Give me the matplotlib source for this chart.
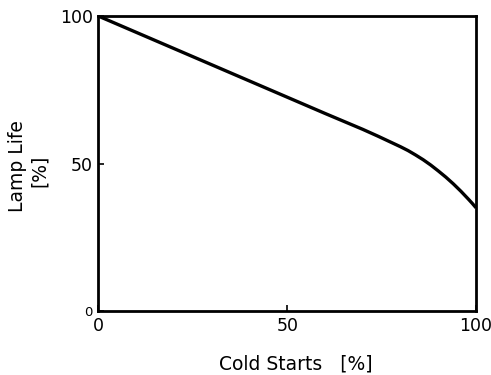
import matplotlib
matplotlib.use("Agg")
import matplotlib.pyplot as plt

plt.rcParams['font.family'] = ['DejaVu Sans']

cold_starts = [0, 10, 20, 30, 40, 50, 60, 70, 74, 77, 80, 82, 84, 86, 88, 90, 92, 94, 96, 98, 99, 100]
lamp_life = [100, 94.5, 89, 83.5, 78, 72.5, 67, 61.6, 59.3, 57.5, 55.7, 54.4, 52.9, 51.3, 49.5, 47.5, 45.4, 43.1, 40.6, 37.9, 36.5, 35]
x_ticks = [0, 50, 100]
y_ticks = [0, 50, 100]

fig = plt.figure(figsize=(4.91, 3.75), dpi=100)
ax = fig.add_axes([0.2006, 0.1707, 0.7689, 0.7863])
ax.plot(cold_starts, lamp_life, color='black', linewidth=2.4, solid_capstyle='butt',
        solid_joinstyle='round')
ax.set_xlim(0, 100)
ax.set_ylim(0, 100)
for s in ax.spines.values():
    s.set_linewidth(2.0)
ax.set_xticks(x_ticks)
ax.set_yticks(y_ticks)
ax.set_xticklabels([str(v) for v in x_ticks], fontsize=12.5)
ax.set_yticklabels([str(v) for v in y_ticks], fontsize=12.5)
ax.get_yticklabels()[0].set_fontsize(9.5)
ax.tick_params(direction='in', length=4, width=1.2)
ax.tick_params(axis='x', pad=4)
ax.tick_params(axis='y', pad=4)
fig.text(0.603, 1 - 364 / 375, 'Cold Starts   [%]', fontsize=13.5, ha='center', va='center')
fig.text(18 / 491, 1 - 166.5 / 375, 'Lamp Life', rotation=90, fontsize=13.5, ha='center', va='center')
fig.text(39 / 491, 1 - 171 / 375, '[%]', rotation=90, fontsize=13.5, ha='center', va='center')
fig.savefig('out.png', dpi=100)
